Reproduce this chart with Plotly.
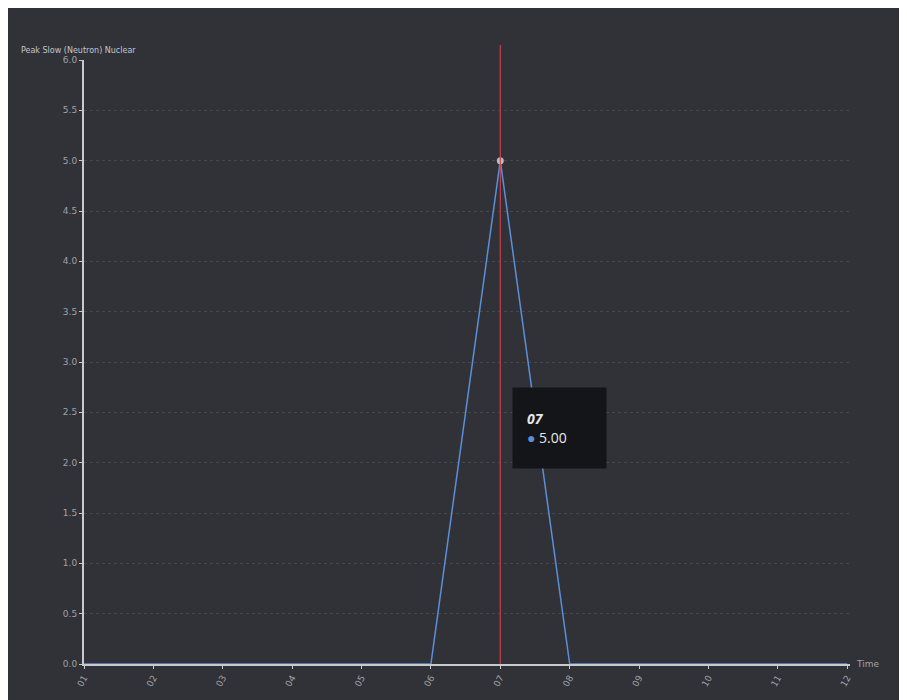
import plotly.graph_objects as go

# data
months = ["01", "02", "03", "04", "05", "06", "07", "08", "09", "10", "11", "12"]
values = [0, 0, 0, 0, 0, 0, 5, 0, 0, 0, 0, 0]
y_ticks = [0, 0.5, 1, 1.5, 2, 2.5, 3, 3.5, 4, 4.5, 5, 5.5, 6]
hover_idx = 6

bg = "#303238"
axis_col = "#c9c9cc"
label_col = "#a0a2a8"
line_col = "#5b8fd9"

fig = go.Figure()
fig.add_trace(go.Scatter(
    x=months, y=values, mode="lines+markers",
    line=dict(color=line_col, width=1.5),
    marker=dict(size=[7 if i == hover_idx else 0 for i in range(len(months))],
                color="#f2f2f2", line=dict(width=0)),
    hoverinfo="skip", showlegend=False,
))

# crosshair at the hovered category (index on the category axis)
fig.add_shape(type="line", xref="x", yref="paper",
              x0=hover_idx, x1=hover_idx, y0=0, y1=1.025,
              line=dict(color="#c9404f", width=1.2))

# tooltip
fig.add_annotation(
    xref="paper", yref="paper", x=0.559, y=0.39, xanchor="left", yanchor="middle",
    text="<b><i>" + months[hover_idx] + "</i></b><br><span style='color:%s'>●</span> %.2f" % (line_col, values[hover_idx]),
    showarrow=False, align="left", bgcolor="#141518", borderpad=14,
    width=65, height=52,
    font=dict(family="Open Sans", size=14, color="#e8e8e8"),
)

fig.add_annotation(xref="paper", yref="paper", x=1.005, y=0, xanchor="left", yanchor="middle",
                   text="Time", showarrow=False, font=dict(size=9, color=label_col))
fig.add_annotation(xref="paper", yref="paper", x=-0.085, y=1.005, xanchor="left", yanchor="bottom",
                   text="Peak Slow (Neutron) Nuclear", showarrow=False,
                   font=dict(size=8, color="#c4c6cc"))

fig.update_layout(
    width=899, height=692,
    paper_bgcolor=bg, plot_bgcolor=bg,
    margin=dict(l=76, r=57, t=52, b=33),
    font=dict(family="DejaVu Sans", size=9, color=label_col),
)
fig.update_xaxes(
    type="category", range=[0, 11.04], showgrid=False,
    showline=True, linecolor=axis_col, linewidth=2,
    ticks="outside", ticklen=3, tickcolor=axis_col, tickangle=-60,
    tickfont=dict(size=9, color=label_col), zeroline=False,
)
fig.update_yaxes(
    range=[0, 6], tickvals=y_ticks, tickformat=".1f",
    showline=True, linecolor=axis_col, linewidth=2,
    ticks="outside", ticklen=3, tickcolor=axis_col,
    showgrid=True, gridcolor="#45474e", griddash="dot", gridwidth=1,
    zeroline=False, tickfont=dict(size=9, color=label_col),
)

fig.write_html("out.html")
